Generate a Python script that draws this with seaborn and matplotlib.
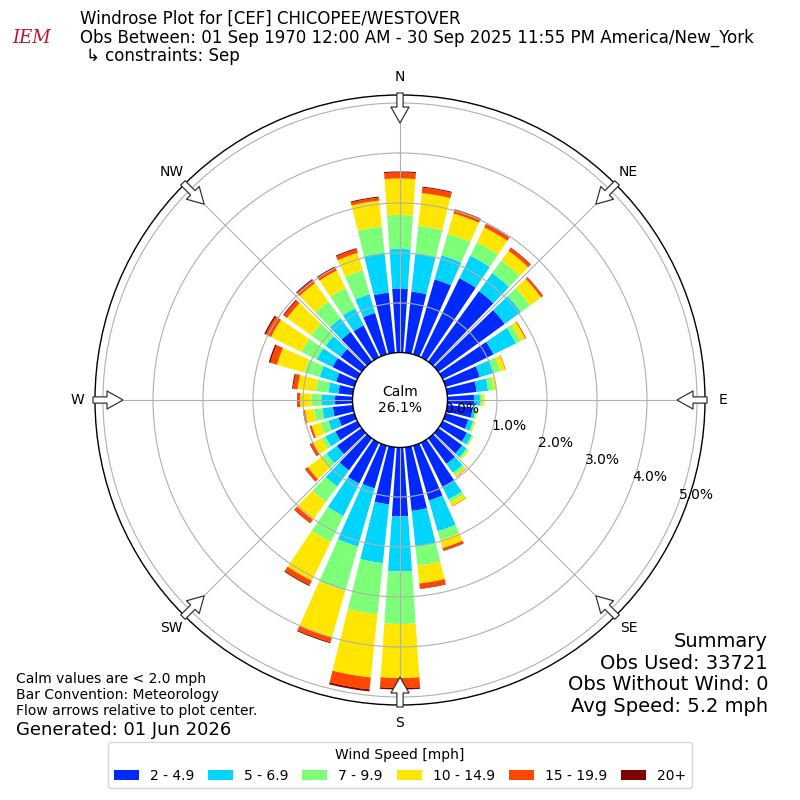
import numpy as np
import matplotlib
matplotlib.use("Agg")
import matplotlib.pyplot as plt
from matplotlib.patches import Circle, Patch
import seaborn as sns

# ---------------- data ----------------
directions = list(range(0, 360, 10))
speed_labels = ["2 - 4.9", "5 - 6.9", "7 - 9.9", "10 - 14.9", "15 - 19.9", "20+"]
compass_labels = ["N", "NE", "E", "SE", "S", "SW", "W", "NW"]
compass_angles = [0, 45, 90, 135, 180, 225, 270, 315]
ring_values = [0, 1, 2, 3, 4, 5]
ring_labels = ["0.0%", "1.0%", "2.0%", "3.0%", "4.0%", "5.0%"]

# percent frequency per direction (0..350 by 10) for each speed bin
spd_2_5 = [1.29, 1.24, 1.57, 1.77, 1.75, 1.65, 1.14, 0.72, 0.60, 0.54, 0.52, 0.48,
           0.55, 0.60, 0.64, 1.00, 1.15, 1.29, 1.39, 1.16, 0.90, 0.92, 0.80, 0.62,
           0.50, 0.34, 0.41, 0.36, 0.30, 0.39, 0.56, 0.53, 0.74, 0.72, 0.87, 1.22]
spd_5_7 = [0.79, 0.76, 0.50, 0.50, 0.45, 0.40, 0.50, 0.28, 0.23, 0.12, 0.06, 0.10,
           0.11, 0.11, 0.22, 0.27, 0.64, 0.71, 1.10, 1.18, 1.21, 0.72, 0.40, 0.26,
           0.22, 0.21, 0.21, 0.27, 0.20, 0.34, 0.35, 0.37, 0.34, 0.38, 0.39, 0.80]
spd_7_10 = [0.68, 0.56, 0.45, 0.30, 0.31, 0.23, 0.11, 0.15, 0.12, 0.05, 0.02, 0.03,
            0.02, 0.03, 0.06, 0.07, 0.18, 0.39, 1.05, 1.03, 0.92, 0.58, 0.38, 0.12,
            0.08, 0.16, 0.17, 0.20, 0.25, 0.32, 0.34, 0.36, 0.42, 0.45, 0.50, 0.53]
spd_10_15 = [0.73, 0.66, 0.42, 0.33, 0.24, 0.27, 0.10, 0.10, 0.05, 0.04, 0.02, 0.02,
             0.02, 0.03, 0.04, 0.08, 0.17, 0.36, 1.08, 1.27, 0.97, 0.86, 0.44, 0.34,
             0.20, 0.19, 0.18, 0.23, 0.37, 0.57, 0.68, 0.59, 0.45, 0.39, 0.36, 0.52]
spd_15_20 = [0.12, 0.11, 0.08, 0.07, 0.07, 0.04, 0.02, 0.01, 0.00, 0.00, 0.00, 0.00,
             0.00, 0.00, 0.01, 0.01, 0.05, 0.10, 0.20, 0.24, 0.10, 0.10, 0.08, 0.06,
             0.06, 0.03, 0.03, 0.05, 0.09, 0.14, 0.12, 0.08, 0.08, 0.07, 0.08, 0.06]
spd_20p = [0.02, 0.02, 0.01, 0.01, 0.01, 0.01, 0.00, 0.00, 0.00, 0.00, 0.00, 0.00,
           0.00, 0.00, 0.00, 0.00, 0.01, 0.01, 0.03, 0.04, 0.02, 0.02, 0.01, 0.01,
           0.01, 0.01, 0.01, 0.01, 0.02, 0.03, 0.03, 0.02, 0.02, 0.02, 0.02, 0.02]
series = [spd_2_5, spd_5_7, spd_7_10, spd_10_15, spd_15_20, spd_20p]

calm_pct = 26.1

# ---------------- style ----------------
sns.set_style("white")
plt.rcParams["font.family"] = ["DejaVu Sans"]
plt.rcParams["text.color"] = "black"
plt.rcParams["xtick.color"] = "black"
plt.rcParams["ytick.color"] = "black"
plt.rcParams["axes.labelcolor"] = "black"
colors = plt.get_cmap("jet")(np.linspace(0, 1, 7)[1:])

fig = plt.figure(figsize=(8, 8), dpi=100)
ax = fig.add_axes([0.11875, 0.11875, 0.7625, 0.7625], projection="polar")
ax.set_theta_zero_location("N")
ax.set_theta_direction(-1)

theta = np.deg2rad(directions)
width = np.deg2rad(8.0)
bottom = np.zeros(len(directions))
for vals, col, lab in zip(series, colors, speed_labels):
    v = np.array(vals)
    ax.bar(theta, v, width=width, bottom=bottom, color=col, edgecolor="none",
           linewidth=0, label=lab, zorder=1)
    bottom = bottom + v

ax.set_rorigin(-0.94)
ax.set_ylim(0, 5.16)
ax.set_axisbelow(False)
ax.set_rgrids(ring_values, labels=ring_labels, angle=110, fontsize=10)
ax.set_thetagrids(compass_angles, labels=compass_labels, fontsize=10)
ax.tick_params(axis="x", pad=2.5, colors="black")
ax.tick_params(axis="y", colors="black")
ax.grid(True, color="#b0b0b0", linewidth=0.8)
ax.spines["polar"].set_color("black")
ax.spines["polar"].set_linewidth(1.0)
ax.set_facecolor("white")

# flow arrows on the outer ring pointing to the center
for ang in compass_angles:
    t = np.deg2rad(ang)
    ax.annotate("", xy=(t, 4.60), xytext=(t, 5.20), xycoords="data",
                arrowprops=dict(arrowstyle="simple,head_length=1.15,head_width=1.3,tail_width=0.45",
                                fc="white", ec="#333333", lw=0.9, shrinkA=0, shrinkB=0,
                                mutation_scale=10),
                annotation_clip=False, zorder=5)

# calm circle
calm = Circle((0.5, 0.5), 47.5 / 610, transform=ax.transAxes, facecolor="white",
              edgecolor="black", linewidth=1.0, zorder=4, clip_on=False)
ax.add_artist(calm)
ax.text(0.5, 0.5, "Calm\n%.1f%%" % calm_pct, transform=ax.transAxes, ha="center",
        va="center", fontsize=10, zorder=6)

# titles
fig.text(0.1, 0.988, "Windrose Plot for [CEF] CHICOPEE/WESTOVER\n"
         "Obs Between: 01 Sep 1970 12:00 AM - 30 Sep 2025 11:55 PM America/New_York",
         ha="left", va="top", fontsize=12, linespacing=1.05)
fig.text(0.107, 0.941, "\u21b3 constraints: Sep", ha="left", va="top", fontsize=12)
fig.text(0.04, 0.952, "IEM", ha="center", va="center", fontsize=13, color="#c8102e",
         family="DejaVu Serif", style="italic")

fig.text(0.02, 0.102, "Calm values are < 2.0 mph\nBar Convention: Meteorology\n"
         "Flow arrows relative to plot center.", ha="left", va="bottom", fontsize=10,
         linespacing=1.2)
fig.text(0.02, 0.0875, "Generated: 01 Jun 2026", ha="left", va="center", fontsize=13)

fig.text(0.96, 0.105, "Summary\nObs Used: 33721\nObs Without Wind: 0\nAvg Speed: 5.2 mph",
         ha="right", va="bottom", fontsize=14, linespacing=1.18)

handles = [Patch(facecolor=c, edgecolor="none", label=l) for c, l in zip(colors, speed_labels)]
leg = fig.legend(handles=handles, loc="lower center", bbox_to_anchor=(0.5, 0.006), ncol=6,
                 title="Wind Speed [mph]", fontsize=10, title_fontsize=10, frameon=True,
                 handlelength=1.8, columnspacing=1.0, handletextpad=0.8)

fig.savefig("out.png", dpi=100, facecolor="white")
